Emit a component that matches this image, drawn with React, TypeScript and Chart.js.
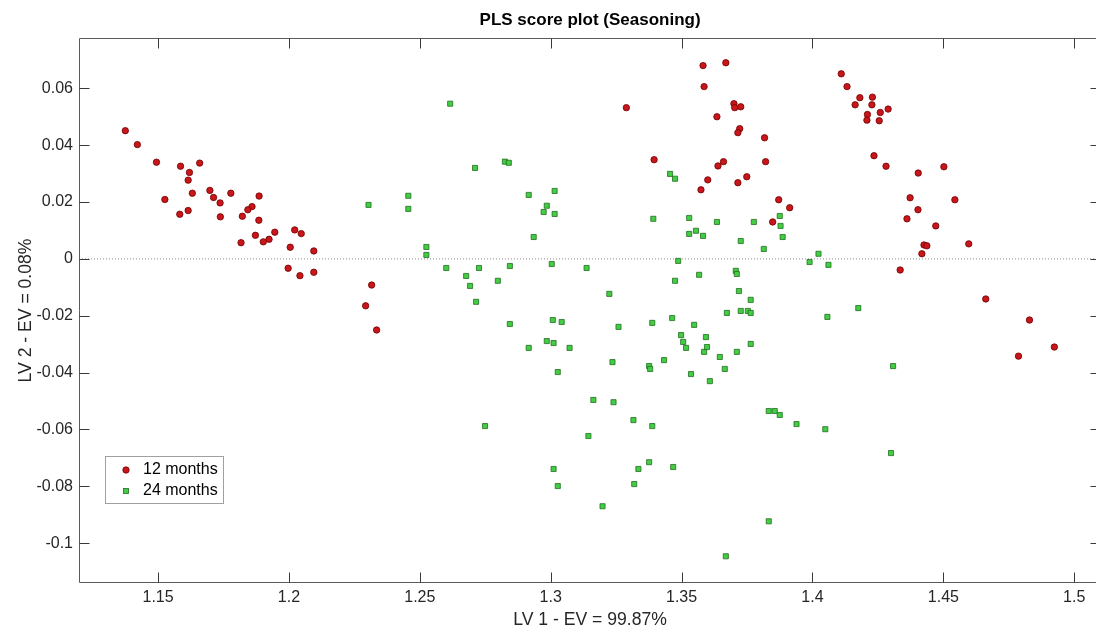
import { useEffect, useRef } from 'react';
import { Chart, registerables } from 'chart.js';

Chart.register(...registerables);

const chartTitle = 'PLS score plot (Seasoning)';
const xAxisTitle = 'LV 1 - EV = 99.87%';
const yAxisTitle = 'LV 2 - EV = 0.08%';
const seriesLabels = ['12 months', '24 months'];

const xTickValues = [1.15, 1.2, 1.25, 1.3, 1.35, 1.4, 1.45, 1.5];
const yTickValues = [-0.1, -0.08, -0.06, -0.04, -0.02, 0, 0.02, 0.04, 0.06];
const xRange = [1.1198, 1.5103];
const yRange = [-0.114, 0.0777];

const months12X = [
  1.1375, 1.1421, 1.1494, 1.1586, 1.1659, 1.162, 1.1615, 1.1526, 1.1631, 1.1698, 1.1712,
  1.1778, 1.1737, 1.1583, 1.1615, 1.1738, 1.1886, 1.1859, 1.1843, 1.1822, 1.1885, 1.1946,
  1.1872, 1.1924, 1.1902, 1.1817, 1.2022, 1.2047, 1.2005, 1.2095, 1.1997, 1.2042, 1.2095,
  1.2293, 1.2316, 1.2335,
  1.3289, 1.3395, 1.3582, 1.3586, 1.3669, 1.3635, 1.37, 1.3703, 1.3726, 1.3722, 1.3715,
  1.3639, 1.366, 1.36, 1.3574, 1.3715, 1.3749, 1.3817, 1.3821, 1.3871, 1.3848, 1.3913,
  1.411, 1.4132, 1.4181, 1.4229, 1.4163, 1.4227, 1.4289, 1.421, 1.4259, 1.4208, 1.4255,
  1.4235, 1.4281, 1.4404, 1.4502,
  1.4373, 1.4403, 1.4361, 1.4471, 1.4426, 1.4437, 1.4418, 1.4544, 1.4597, 1.4335, 1.4662,
  1.4829, 1.4787, 1.4924,
];
const months12Y = [
  0.0451, 0.0402, 0.034, 0.0326, 0.0337, 0.0304, 0.0277, 0.0209, 0.0231, 0.0241, 0.0216,
  0.0231, 0.0197, 0.0157, 0.017, 0.0148, 0.0221, 0.0184, 0.0173, 0.015, 0.0136, 0.0094,
  0.0083, 0.0069, 0.006, 0.0057, 0.0102, 0.0089, 0.0041, 0.0028, -0.0033, -0.0059, -0.0047,
  -0.0165, -0.0092, -0.025,
  0.0532, 0.0349, 0.068, 0.0606, 0.069, 0.05, 0.0546, 0.0532, 0.0535, 0.0458, 0.0444,
  0.0327, 0.0342, 0.0278, 0.0243, 0.0268, 0.0289, 0.0426, 0.0342, 0.0208, 0.013, 0.018,
  0.0651, 0.0606, 0.0567, 0.0569, 0.0542, 0.0542, 0.0527, 0.0508, 0.0515, 0.0488, 0.0486,
  0.0363, 0.0326, 0.0302, 0.0324,
  0.0215, 0.0173, 0.0141, 0.0116, 0.0049, 0.0046, 0.0018, 0.0208, 0.0053, -0.0039, -0.0141,
  -0.0215, -0.0342, -0.031,
];

const months24X = [
  1.2304, 1.2456, 1.2456, 1.2525, 1.2525, 1.2601, 1.2616, 1.2677, 1.2692, 1.2715, 1.2726,
  1.2711, 1.2749, 1.2798, 1.2825, 1.284, 1.2844, 1.2844, 1.2916, 1.2935, 1.2916, 1.2973,
  1.2985, 1.2985, 1.3004, 1.3015, 1.3015, 1.3008, 1.3011, 1.3042, 1.3027, 1.3011, 1.3027,
  1.3072, 1.3137, 1.3144, 1.3163, 1.3198, 1.3224, 1.3236, 1.324, 1.3259, 1.3316, 1.3319,
  1.3335, 1.3376, 1.338, 1.3388, 1.3392, 1.3388, 1.3376, 1.3433, 1.3456, 1.3475, 1.3464,
  1.3475, 1.3487, 1.3468, 1.3498, 1.3506, 1.3517, 1.3529, 1.3529, 1.3536, 1.3548, 1.3555,
  1.3567, 1.3586, 1.3597, 1.3593, 1.3582, 1.3608, 1.3635, 1.3646, 1.3665, 1.3673, 1.3669,
  1.3707, 1.3711, 1.3711, 1.3719, 1.3726, 1.3726, 1.3753, 1.3764, 1.3764, 1.3764, 1.3776,
  1.3814, 1.3833, 1.3833, 1.3856, 1.3875, 1.3875, 1.3878, 1.3886, 1.3939, 1.3989, 1.4023,
  1.4061, 1.4057, 1.4049, 1.4175, 1.4308, 1.43,
];
const months24Y = [
  0.019, 0.0222, 0.0176, 0.0042, 0.0014, -0.0032, 0.0546, -0.006, -0.0095, -0.0151, -0.0032,
  0.032, -0.0588, -0.0077, 0.0342, 0.0338, -0.0025, -0.0229, 0.0225, 0.0077, -0.0313, 0.0165,
  0.0187, -0.0289, -0.0018, 0.0239, 0.0158, -0.0215, -0.0296, -0.0222, -0.0398, -0.0739, -0.0799,
  -0.0313, -0.0032, -0.0623, -0.0496, -0.087, -0.0123, -0.0363, -0.0504, -0.0239, -0.0567, -0.0792,
  -0.0739, -0.0377, -0.0387, -0.0225, 0.0141, -0.0588, -0.0715, -0.0356, 0.0299, 0.0282, -0.0208,
  -0.0077, -0.0007, -0.0732, -0.0268, -0.0292, -0.0313, 0.0144, 0.0088, -0.0405, -0.0232, 0.0099,
  -0.0056, -0.0327, -0.031, -0.0275, 0.0081, -0.043, 0.013, -0.0345, -0.0387, -0.019, -0.1046,
  -0.0042, -0.0053, -0.0327, -0.0113, -0.0183, 0.0063, -0.0183, -0.0144, -0.019, -0.0299, 0.013,
  0.0035, -0.0923, -0.0535, -0.0535, -0.0549, 0.0151, 0.0116, 0.0077, -0.0581, -0.0011, 0.0018,
  -0.0021, -0.0204, -0.0599, -0.0173, -0.0377, -0.0683,
];

const RED_FILL = '#c8161b';
const RED_EDGE = '#6e0000';
const GREEN_FILL = '#44cc44';
const GREEN_EDGE = '#1f6f1f';
const FONT = '"Liberation Sans", Arial, Helvetica, sans-serif';

const fmt = (v: number) => Number(Number(v).toFixed(4)).toString();

const decorPlugin = {
  id: 'decor',
  beforeDraw(chart: any) {
    const { ctx, width, height } = chart;
    ctx.save();
    ctx.fillStyle = '#ffffff';
    ctx.fillRect(0, 0, width, height);
    ctx.restore();
  },
  afterDraw(chart: any) {
    const { ctx, chartArea: a, scales } = chart;
    const xs = scales.x;
    const ys = scales.y;
    ctx.save();
    // box
    ctx.strokeStyle = '#5a5a5a';
    ctx.lineWidth = 1;
    ctx.beginPath();
    const L = Math.round(a.left) + 0.5;
    const R = Math.round(a.right) - 0.5;
    const T = Math.round(a.top) + 0.5;
    const B = Math.round(a.bottom) - 0.5;
    ctx.moveTo(L, T);
    ctx.lineTo(R, T);
    ctx.lineTo(R, B);
    ctx.lineTo(L, B);
    ctx.closePath();
    ctx.stroke();
    // inside ticks
    ctx.strokeStyle = '#3a3a3a';
    ctx.beginPath();
    for (const v of xTickValues) {
      const px = Math.round(xs.getPixelForValue(v)) + 0.5;
      ctx.moveTo(px, B);
      ctx.lineTo(px, B - 10);
      ctx.moveTo(px, T);
      ctx.lineTo(px, T + 10);
    }
    for (const v of yTickValues) {
      const py = Math.round(ys.getPixelForValue(v)) + 0.5;
      ctx.moveTo(L, py);
      ctx.lineTo(L + 10, py);
      ctx.moveTo(R, py);
      ctx.lineTo(R - 10, py);
    }
    ctx.stroke();

    const cx = (a.left + a.right) / 2;
    // title
    ctx.fillStyle = '#000000';
    ctx.textAlign = 'center';
    ctx.textBaseline = 'middle';
    ctx.font = `bold 17px ${FONT}`;
    ctx.fillText(chartTitle, cx, 20);
    // axis titles
    ctx.fillStyle = '#262626';
    ctx.font = `17.6px ${FONT}`;
    ctx.fillText(xAxisTitle, cx, 620);
    ctx.save();
    ctx.translate(26, (a.top + a.bottom) / 2);
    ctx.rotate(-Math.PI / 2);
    ctx.fillText(yAxisTitle, 0, 0);
    ctx.restore();

    // legend
    const lx = 105.5, ly = 456.5, lw = 118, lh = 47;
    ctx.fillStyle = '#ffffff';
    ctx.fillRect(lx, ly, lw, lh);
    ctx.strokeStyle = '#a0a0a0';
    ctx.strokeRect(lx, ly, lw, lh);
    // red circle
    ctx.beginPath();
    ctx.arc(126, 470, 3.2, 0, Math.PI * 2);
    ctx.fillStyle = RED_FILL;
    ctx.fill();
    ctx.strokeStyle = RED_EDGE;
    ctx.lineWidth = 0.8;
    ctx.stroke();
    // green square
    ctx.fillStyle = GREEN_FILL;
    ctx.fillRect(123.5, 488.5, 5, 5);
    ctx.strokeStyle = GREEN_EDGE;
    ctx.strokeRect(123.5, 488.5, 5, 5);
    ctx.fillStyle = '#000000';
    ctx.textAlign = 'left';
    ctx.font = `16px ${FONT}`;
    ctx.fillText(seriesLabels[0], 143, 470);
    ctx.fillText(seriesLabels[1], 143, 491);
    ctx.restore();
  },
};

export default function App() {
  const ref = useRef<HTMLCanvasElement | null>(null);
  useEffect(() => {
    const canvas = ref.current;
    if (!canvas) return;
    const chart = new Chart(canvas, {
      type: 'scatter',
      data: {
        datasets: [
          {
            label: seriesLabels[0],
            data: months12X.map((x, i) => ({ x, y: months12Y[i] })),
            pointStyle: 'circle',
            pointRadius: 3.2,
            pointBackgroundColor: RED_FILL,
            pointBorderColor: RED_EDGE,
            pointBorderWidth: 0.8,
          },
          {
            label: seriesLabels[1],
            data: months24X.map((x, i) => ({ x, y: months24Y[i] })),
            pointStyle: 'rect',
            pointRadius: 3.6,
            pointBackgroundColor: GREEN_FILL,
            pointBorderColor: GREEN_EDGE,
            pointBorderWidth: 0.8,
          },
          {
            label: 'zero',
            data: [
              { x: xRange[0], y: 0 },
              { x: xRange[1], y: 0 },
            ],
            showLine: true,
            pointRadius: 0,
            borderColor: '#8a8a8a',
            borderWidth: 1,
            borderDash: [1, 2],
          },
        ],
      } as any,
      options: {
        animation: false,
        responsive: false,
        devicePixelRatio: 1,
        layout: { padding: { left: 0, right: 0, top: 38, bottom: 0 } },
        plugins: {
          legend: { display: false },
          title: { display: false },
          tooltip: { enabled: false },
        },
        events: [],
        scales: {
          x: {
            type: 'linear',
            min: xRange[0],
            max: xRange[1],
            grid: { display: false, drawTicks: false },
            border: { display: false },
            afterFit: (s: any) => {
              s.height = 47;
            },
            afterBuildTicks: (s: any) => {
              s.ticks = xTickValues.map((value) => ({ value }));
            },
            ticks: {
              padding: 5,
              color: '#262626',
              font: { family: FONT, size: 16 },
              maxRotation: 0,
              autoSkip: false,
              callback: (v: any) => fmt(v),
            },
          },
          y: {
            type: 'linear',
            min: yRange[0],
            max: yRange[1],
            grid: { display: false, drawTicks: false },
            border: { display: false },
            afterFit: (s: any) => {
              s.width = 79;
            },
            afterBuildTicks: (s: any) => {
              s.ticks = yTickValues.map((value) => ({ value }));
            },
            ticks: {
              padding: 6,
              color: '#262626',
              font: { family: FONT, size: 16 },
              autoSkip: false,
              callback: (v: any) => fmt(v),
            },
          },
        },
      } as any,
      plugins: [decorPlugin],
    });
    return () => chart.destroy();
  }, []);

  return (
    <div
      style={{
        position: 'absolute',
        left: 0,
        top: 0,
        width: 1096,
        height: 630,
        overflow: 'hidden',
        background: '#ffffff',
      }}
    >
      <canvas ref={ref} width={1106} height={630} style={{ display: 'block' }} />
    </div>
  );
}
